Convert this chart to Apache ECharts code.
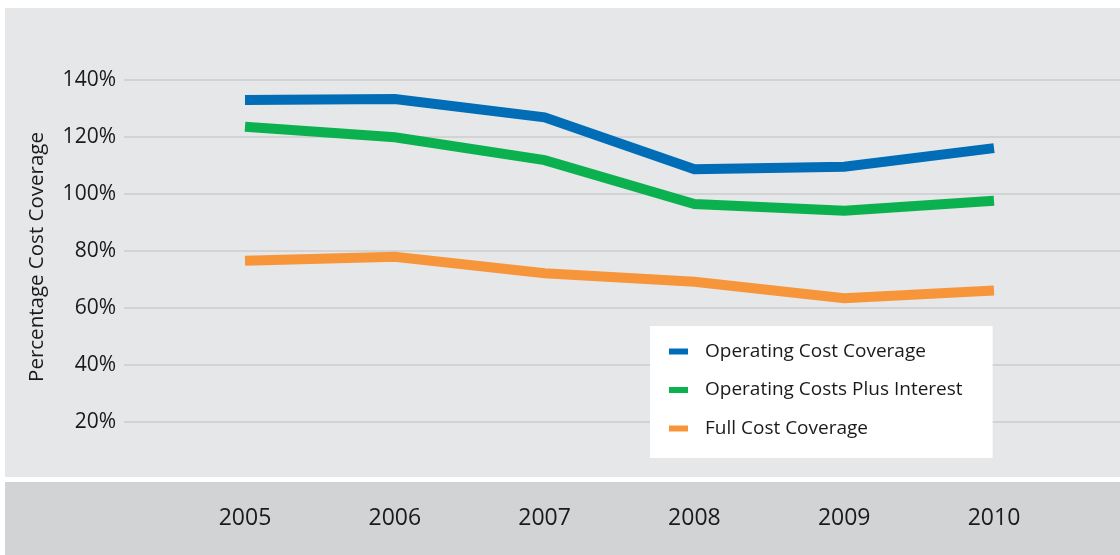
<!DOCTYPE html>
<html>
<head>
<meta charset="utf-8">
<script src="https://cdn.jsdelivr.net/npm/echarts@6/dist/echarts.min.js"></script>
<style>
  html, body { margin: 0; padding: 0; background: #ffffff; }
  #chart { width: 1120px; height: 555px; }
</style>
</head>
<body>
<div id="chart"></div>
<script>
// Cost coverage ratios (percent) by year
const years = ['2005', '2006', '2007', '2008', '2009', '2010'];
const operatingCost = [133.0, 133.3, 126.9, 108.7, 109.6, 116.1];
const operatingPlusInterest = [123.6, 119.9, 111.9, 96.5, 94.1, 97.6];
const fullCost = [76.6, 78.0, 72.2, 69.2, 63.4, 66.1];
const seriesNames = ['Operating Cost Coverage', 'Operating Costs Plus Interest', 'Full Cost Coverage'];
const yTicks = [20, 40, 60, 80, 100, 120, 140];

const FONT = '"Open Sans", "Noto Sans", sans-serif';
const chart = echarts.init(document.getElementById('chart'));

const yMin = 0, yMax = 160;
const gridTop = 23, gridBottom = 76;

function lineSeries(name, data, color) {
  return {
    name: name,
    type: 'line',
    xAxisIndex: 1,
    yAxisIndex: 1,
    data: data,
    symbol: 'none',
    lineStyle: { width: 10, color: color, cap: 'butt', join: 'miter' },
    itemStyle: { color: color },
    z: 3
  };
}

chart.setOption({
  backgroundColor: '#ffffff',
  animation: false,
  graphic: {
    elements: [
      { type: 'rect', z: -10, shape: { x: 5, y: 8, width: 1115, height: 469 }, style: { fill: '#e6e7e8' } },
      { type: 'rect', z: -10, shape: { x: 5, y: 482, width: 1115, height: 73 }, style: { fill: '#d1d3d4' } }
    ]
  },
  grid: [
    // value scale with gridlines across the panel
    { left: 124, right: 0, top: gridTop, bottom: gridBottom },
    // plotting area spanning first to last year
    { left: 245, right: 126, top: gridTop, bottom: gridBottom }
  ],
  legend: {
    data: seriesNames,
    orient: 'vertical',
    left: 650,
    top: 326,
    backgroundColor: '#ffffff',
    padding: [16, 30, 20, 19],
    itemWidth: 19,
    itemHeight: 6,
    itemGap: 19.5,
    icon: 'rect',
    textStyle: { fontFamily: FONT, fontSize: 19, color: '#1a1a1a', padding: [0, 0, 0, 12] }
  },
  xAxis: [
    { type: 'category', gridIndex: 0, data: years, show: false },
    {
      type: 'category', gridIndex: 1, data: years, boundaryGap: false,
      axisLine: { show: false }, axisTick: { show: false }, splitLine: { show: false },
      axisLabel: { fontFamily: FONT, fontSize: 23, color: '#1a1a1a', margin: 28 }
    }
  ],
  yAxis: [
    {
      type: 'value', gridIndex: 0, min: yMin, max: yMax, interval: 20,
      name: 'Percentage Cost Coverage', nameLocation: 'middle', nameGap: 76,
      nameTextStyle: { fontFamily: FONT, fontSize: 20.5, color: '#1a1a1a', padding: [0, 12, 0, 0] },
      axisLine: { show: false }, axisTick: { show: false },
      splitLine: {
        show: true,
        lineStyle: { color: '#d1d3d4', width: 2 },
        showMinLine: false, showMaxLine: false
      },
      axisLabel: {
        fontFamily: FONT, fontSize: 21, color: '#1a1a1a', margin: 8,
        formatter: function (v) { return yTicks.indexOf(v) >= 0 ? v + '%' : ''; }
      }
    },
    { type: 'value', gridIndex: 1, min: yMin, max: yMax, interval: 20, show: false, splitLine: { show: false } }
  ],
  series: [
    lineSeries(seriesNames[0], operatingCost, '#006db6'),
    lineSeries(seriesNames[1], operatingPlusInterest, '#0bb14e'),
    lineSeries(seriesNames[2], fullCost, '#f7953a')
  ]
});
</script>
</body>
</html>
